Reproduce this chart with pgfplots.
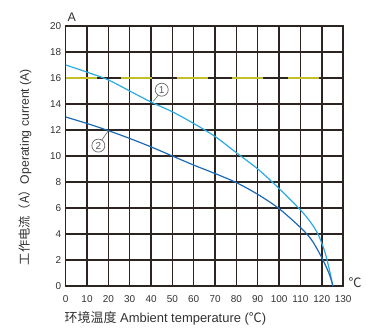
\documentclass[border=0pt]{standalone}
\usepackage{pgfplots}
\pgfplotsset{compat=1.18}
\usepackage{fontspec}
\setmainfont{Liberation Sans}
\newfontfamily\cjk{Noto Sans CJK SC}
\definecolor{gridc}{RGB}{45,35,32}
\definecolor{lblue}{RGB}{41,170,226}
\definecolor{dblue}{RGB}{26,105,180}
\definecolor{yel}{RGB}{196,190,40}
\definecolor{txt}{RGB}{50,50,50}
\begin{document}
\begin{tikzpicture}
\useasboundingbox (-65.7bp,-43bp) rectangle (300.3bp,286bp);
\begin{axis}[
  at={(0,0)}, anchor=south west,
  scale only axis, width=277.4bp, height=260bp,
  xmin=0, xmax=130, ymin=0, ymax=20,
  xtick={0,10,...,130}, ytick={0,2,...,20},
  grid=major,
  major grid style={gridc, line width=1.5pt},
  axis line style={gridc, line width=1.5pt},
  major tick length=0pt,
  tick label style={font=\fontsize{10}{10}\selectfont, text=txt},
  /pgf/number format/assume math mode=true,
  xticklabel style={yshift=-6bp},
  yticklabel style={xshift=-1bp},
  clip=false,
]
\addplot[yel, line width=1.8pt, dash pattern=on 31bp off 24.5bp] coordinates {(0,16) (130,16)};
\addplot[lblue, line width=1.2pt, smooth] coordinates {
(0,17) (10,16.45) (20,15.85) (30,15.0) (40,14.15) (50,13.4) (60,12.5) (70,11.5)
(80,10.25) (90,9.0) (100,7.5) (110,5.85) (115,4.85) (118.5,3.9) (121.5,2.6) (123.5,1.3) (125.2,0)};
\addplot[dblue, line width=1.2pt, smooth] coordinates {
(0,13) (10,12.5) (20,11.95) (30,11.35) (40,10.7) (50,10.0) (60,9.3) (70,8.65)
(80,7.95) (90,7.05) (100,5.95) (110,4.5) (115,3.6) (119,2.5) (122,1.5) (124,0.7) (125.2,0)};
\draw[black!60, line width=0.6pt] (axis cs:41,14.2) -- (axis cs:43.5,14.7);
\draw[black!60, line width=0.6pt] (axis cs:20,11.95) -- (axis cs:16.8,11.2);
\node[circle, draw=black!60, fill=white, line width=0.7pt, inner sep=0pt, minimum size=13bp, font=\fontsize{10}{10}\selectfont, text=black!65] at (axis cs:45,15.1) {1};
\node[circle, draw=black!60, fill=white, line width=0.7pt, inner sep=0pt, minimum size=13bp, font=\fontsize{10}{10}\selectfont, text=black!65] at (axis cs:15.3,10.8) {2};
\end{axis}
\node[rotate=90, text=txt, font=\fontsize{12.3}{13}\selectfont] at (-40.7bp,119bp) {{\cjk 工作电流（A）}Operating current (A)};
\node[text=txt, font=\fontsize{13}{14}\selectfont] at (99.8bp,-32bp) {{\cjk 环境温度}~Ambient temperature ({\cjk ℃})};
\node[text=txt, font=\fontsize{12.5}{13}\selectfont] at (6bp,268.5bp) {A};
\node[text=txt, font=\fontsize{13}{13}\selectfont] at (289.5bp,3bp) {{\cjk ℃}};
\end{tikzpicture}
\end{document}
